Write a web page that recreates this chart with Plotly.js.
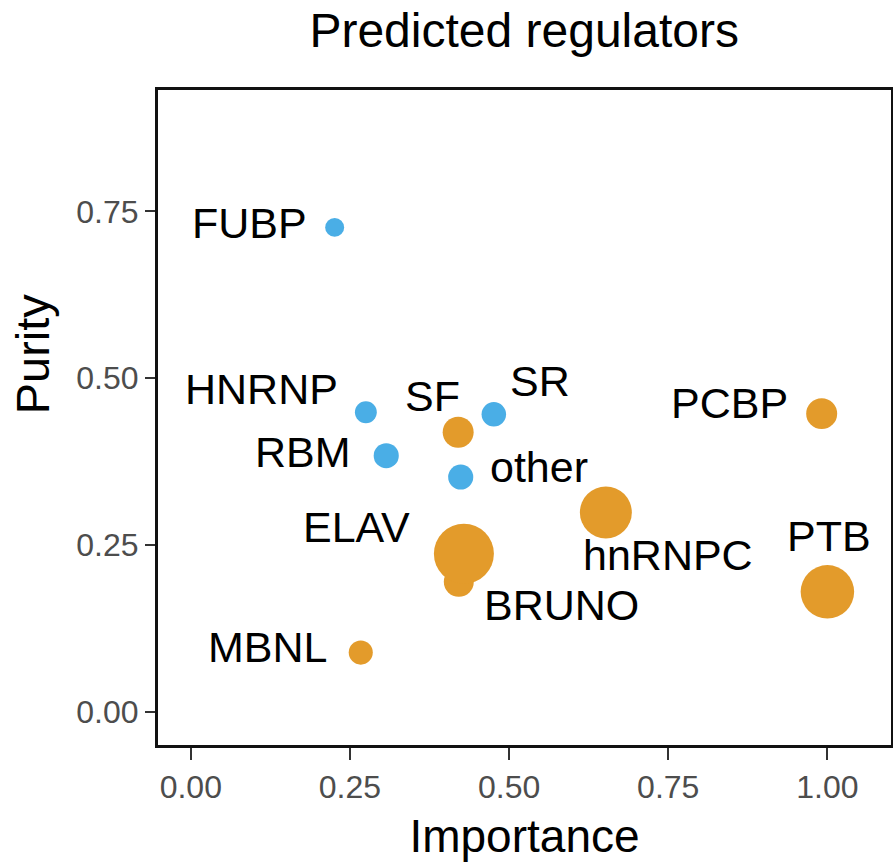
<!DOCTYPE html>
<html>
<head>
<meta charset="utf-8">
<script src="https://cdn.plot.ly/plotly-3.0.1.min.js"></script>
<style>html,body{margin:0;padding:0;background:#fff;}#chart{width:893px;height:862px;}</style>
</head>
<body>
<div id="chart"></div>
<script>
// Blue group
const blueNames = ['FUBP', 'HNRNP', 'SR', 'RBM', 'other'];
const blueImportance = [0.226, 0.275, 0.476, 0.307, 0.424];
const bluePurity = [0.726, 0.449, 0.446, 0.384, 0.352];
const blueWeight = [3.6, 4.8, 6.0, 6.3, 6.3];

// Orange group
const orangeNames = ['SF', 'PCBP', 'MBNL', 'hnRNPC', 'BRUNO', 'ELAV', 'PTB'];
const orangeImportance = [0.420, 0.991, 0.267, 0.652, 0.421, 0.429, 1.000];
const orangePurity = [0.419, 0.447, 0.089, 0.299, 0.195, 0.237, 0.180];
const orangeWeight = [9.6, 9.6, 5.8, 27.0, 9.0, 36.0, 28.6];

const xTicks = [0, 0.25, 0.5, 0.75, 1.0];
const xTickText = ['0.00', '0.25', '0.50', '0.75', '1.00'];
const yTicks = [0, 0.25, 0.5, 0.75];
const yTickText = ['0.00', '0.25', '0.50', '0.75'];

// label offsets in pixels (layout only)
const labelShift = {
  FUBP: [-85, -4], HNRNP: [-104, -23], SR: [46, -33], RBM: [-83, -4], other: [78, -10],
  SF: [-26, -36], PCBP: [-92, -11], MBNL: [-93, -6], hnRNPC: [62, 43],
  BRUNO: [103, 23], ELAV: [-107, -27], PTB: [2, -56]
};

const BLUE = '#4AAEE6';
const ORANGE = '#E39B2B';
const FONT = 'Liberation Sans, Arial, Helvetica, sans-serif';

const traces = [
  {type: 'scatter', mode: 'markers', name: 'blue', x: blueImportance, y: bluePurity, text: blueNames,
   marker: {color: BLUE, opacity: 1, size: blueWeight, sizemode: 'area', sizeref: 0.02, line: {width: 0}}, hoverinfo: 'text'},
  {type: 'scatter', mode: 'markers', name: 'orange', x: orangeImportance, y: orangePurity, text: orangeNames,
   marker: {color: ORANGE, opacity: 1, size: orangeWeight, sizemode: 'area', sizeref: 0.02, line: {width: 0}}, hoverinfo: 'text'}
];

const annotations = [];
function addLabels(names, xs, ys) {
  names.forEach((n, i) => {
    const s = labelShift[n];
    annotations.push({x: xs[i], y: ys[i], xref: 'x', yref: 'y', text: n, showarrow: false,
      xanchor: 'center', yanchor: 'middle', xshift: s[0], yshift: -s[1],
      font: {family: FONT, size: 43, color: '#000'}});
  });
}
addLabels(blueNames, blueImportance, bluePurity);
addLabels(orangeNames, orangeImportance, orangePurity);

annotations.push({xref: 'paper', yref: 'paper', x: -0.17, y: 0.597, text: 'Purity', textangle: -90,
  showarrow: false, xanchor: 'center', yanchor: 'middle', font: {family: FONT, size: 47, color: '#000'}});

const layout = {
  width: 893, height: 862,
  margin: {l: 158, r: 2, t: 90, b: 117, pad: 0},
  paper_bgcolor: '#fff', plot_bgcolor: '#fff',
  showlegend: false,
  title: {text: 'Predicted regulators', font: {family: FONT, size: 48, color: '#000'},
          x: 0.587, xanchor: 'center', y: 0.985, yanchor: 'top'},
  xaxis: {range: [-0.0515, 1.0999], tickvals: xTicks, ticktext: xTickText, showgrid: false, zeroline: false,
          showline: true, mirror: true, linecolor: '#111', linewidth: 3,
          ticks: 'outside', ticklen: 12, tickwidth: 2, tickcolor: '#333',
          tickfont: {family: FONT, size: 32, color: '#4d4d4d'},
          title: {text: 'Importance', font: {family: FONT, size: 46, color: '#000'}, standoff: 18}},
  yaxis: {range: [-0.0494, 0.9318], tickvals: yTicks, ticktext: yTickText, showgrid: false, zeroline: false,
          showline: true, mirror: true, linecolor: '#111', linewidth: 3,
          ticks: 'outside', ticklen: 10, tickwidth: 2, tickcolor: '#333',
          tickfont: {family: FONT, size: 32, color: '#4d4d4d'}},
  annotations: annotations
};

Plotly.newPlot('chart', traces, layout, {displayModeBar: false, staticPlot: true});
</script>
</body>
</html>
